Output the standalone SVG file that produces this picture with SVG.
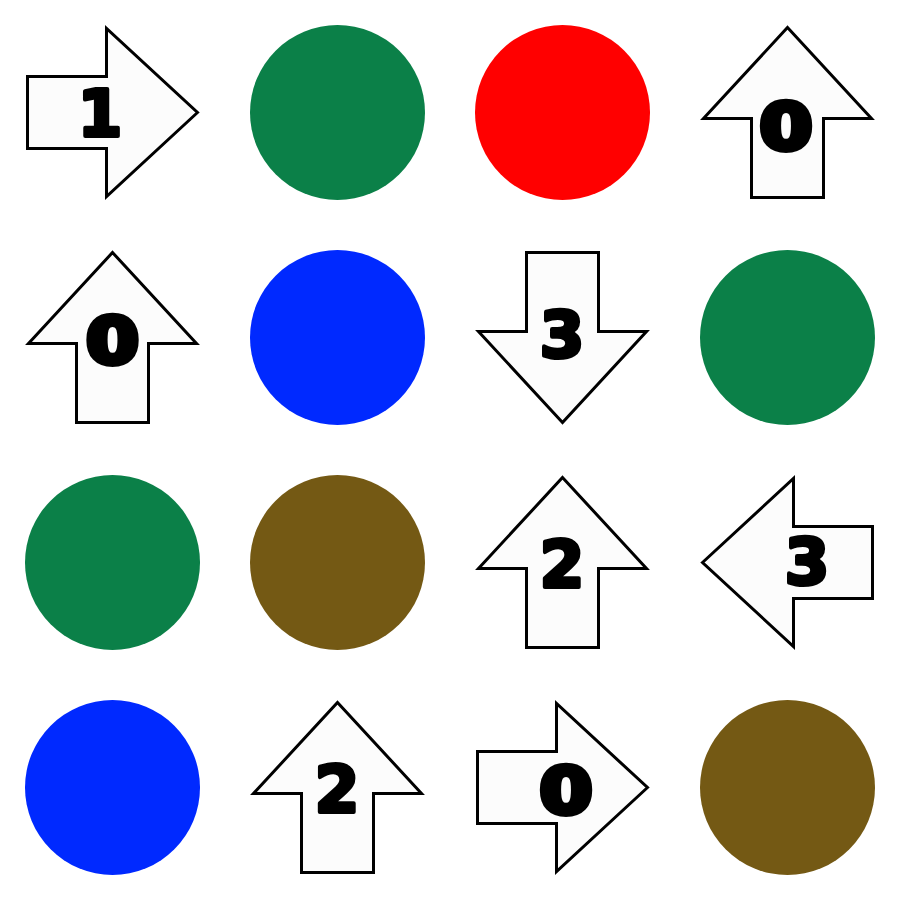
<svg xmlns="http://www.w3.org/2000/svg" xmlns:xlink="http://www.w3.org/1999/xlink" width="900" height="900" viewBox="0 0 900 900">
<style>
.arrow{fill:#fcfcfc;stroke:#000;stroke-width:3;stroke-linejoin:miter}
.num{font-family:"DejaVu Sans",sans-serif;font-weight:bold;font-size:64px;fill:#000;stroke:#000;stroke-width:4;stroke-linejoin:round;text-anchor:middle}
.zero{stroke-width:6}
.green{fill:#0b8048}
.red{fill:#ff0000}
.blue{fill:#0029ff}
.brown{fill:#745914}
</style>
<defs>
<polygon id="arw" points="0,-85 84,6 36,6 36,85 -36,85 -36,6 -84,6"/>
</defs>
<rect width="900" height="900" fill="#fff"/>
<g id="n00"><use xlink:href="#arw" href="#arw" class="arrow" transform="translate(112.5,112.5) rotate(90)"/><text class="num" x="100" y="136">1</text></g>
<g id="n01"><circle class="green" cx="337.5" cy="112.5" r="87.5"/></g>
<g id="n02"><circle class="red" cx="562.5" cy="112.5" r="87.5"/></g>
<g id="n03"><use xlink:href="#arw" href="#arw" class="arrow" transform="translate(787.5,112.5)"/><text class="num zero" transform="translate(786,148.5) scale(1.18,1)">0</text></g>
<g id="n10"><use xlink:href="#arw" href="#arw" class="arrow" transform="translate(112.5,337.5)"/><text class="num zero" transform="translate(112.5,362.5) scale(1.18,1)">0</text></g>
<g id="n11"><circle class="blue" cx="337.5" cy="337.5" r="87.5"/></g>
<g id="n12"><use xlink:href="#arw" href="#arw" class="arrow" transform="translate(562.5,337.5) rotate(180)"/><text class="num" x="562" y="357">3</text></g>
<g id="n13"><circle class="green" cx="787.5" cy="337.5" r="87.5"/></g>
<g id="n20"><circle class="green" cx="112.5" cy="562.5" r="87.5"/></g>
<g id="n21"><circle class="brown" cx="337.5" cy="562.5" r="87.5"/></g>
<g id="n22"><use xlink:href="#arw" href="#arw" class="arrow" transform="translate(562.5,562.5)"/><text class="num" x="562" y="587">2</text></g>
<g id="n23"><use xlink:href="#arw" href="#arw" class="arrow" transform="translate(787.5,562.5) rotate(-90)"/><text class="num" x="807" y="584">3</text></g>
<g id="n30"><circle class="blue" cx="112.5" cy="787.5" r="87.5"/></g>
<g id="n31"><use xlink:href="#arw" href="#arw" class="arrow" transform="translate(337.5,787.5)"/><text class="num" x="337" y="812">2</text></g>
<g id="n32"><use xlink:href="#arw" href="#arw" class="arrow" transform="translate(562.5,787.5) rotate(90)"/><text class="num zero" transform="translate(566,812.5) scale(1.18,1)">0</text></g>
<g id="n33"><circle class="brown" cx="787.5" cy="787.5" r="87.5"/></g>
<g id="connectors"></g>
</svg>
